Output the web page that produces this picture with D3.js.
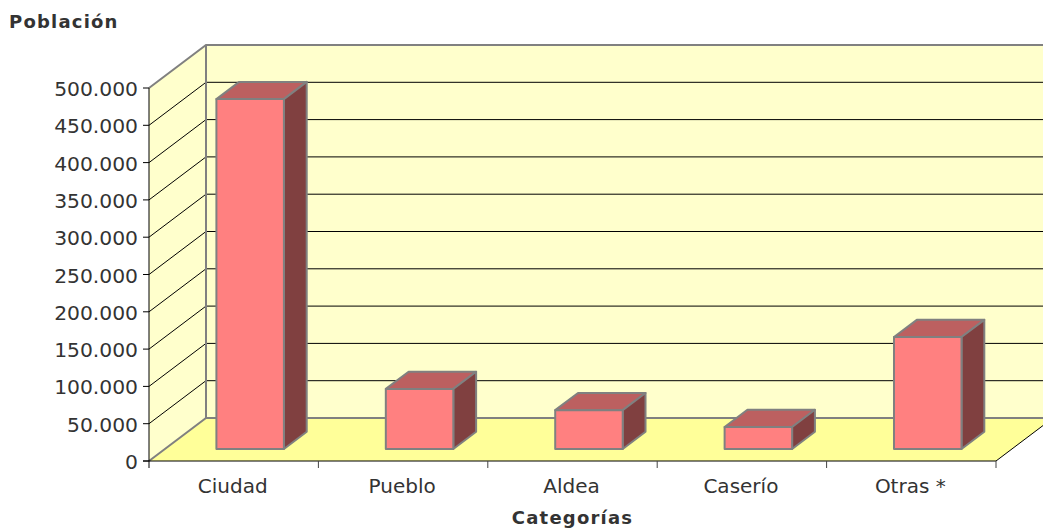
<!DOCTYPE html>
<html>
<head>
<meta charset="utf-8">
<script src="https://cdn.jsdelivr.net/npm/d3@7"></script>
<style>
  html, body { margin: 0; padding: 0; background: #fff; }
  svg { display: block; }
  text { font-family: "DejaVu Sans", Verdana, sans-serif; fill: #333; }
</style>
</head>
<body>
<div id="chart"></div>
<script>
var categories = ['Ciudad', 'Pueblo', 'Aldea', 'Caserío', 'Otras *'];
var values = [469000, 80500, 52000, 29500, 150000];
var yTicks = [0, 50000, 100000, 150000, 200000, 250000, 300000, 350000, 400000, 450000, 500000];
var yTickLabels = ['0', '50.000', '100.000', '150.000', '200.000', '250.000', '300.000', '350.000', '400.000', '450.000', '500.000'];

var width = 1043, height = 529;
var left = 149, right = 996, base = 461, top_ = 88;
var depthX = 57, depthY = 43;       // full depth of the box
var barFront = 0.28, barBack = 0.68; // bar position inside the depth

var x = d3.scaleBand().domain(categories).range([left, right]);
var y = d3.scaleLinear().domain([0, 500000]).range([base, top_]);

// oblique projection: d = 0 is the front plane, d = 1 the back wall
function px(xv, d) { return xv + d * depthX; }
function py(yv, d) { return yv - d * depthY; }
function pt(xv, yv, d) { return [px(xv, d), py(yv, d)]; }

var svg = d3.select('#chart').append('svg')
  .attr('width', width)
  .attr('height', height);

var line = d3.line();
var grey = '#808080';

// walls and floor
svg.append('path')
  .attr('d', line([pt(left, base, 0), pt(left, top_, 0), pt(left, top_, 1), pt(left, base, 1)]) + 'Z')
  .attr('fill', '#ffffcc');
svg.append('path')
  .attr('d', line([pt(left, base, 1), pt(left, top_, 1), pt(right, top_, 1), pt(right, base, 1)]) + 'Z')
  .attr('fill', '#ffffcc');
svg.append('path')
  .attr('d', line([pt(left, base, 0), pt(left, base, 1), pt(right, base, 1), pt(right, base, 0)]) + 'Z')
  .attr('fill', '#ffff99');

// grid lines, side wall then back wall
var grid = yTicks.filter(function(d) { return d > 0 && d < 500000; });
svg.selectAll('.grid')
  .data(grid)
  .enter().append('path')
  .attr('class', 'grid')
  .attr('fill', 'none')
  .attr('stroke', '#000')
  .attr('stroke-width', 1)
  .attr('d', function(d) {
    return line([pt(left, y(d), 0), pt(left, y(d), 1), pt(right, y(d), 1)]);
  });

// box outline
svg.append('path')
  .attr('fill', 'none')
  .attr('stroke', grey)
  .attr('stroke-width', 2)
  .attr('d', line([pt(left, top_, 0), pt(left, top_, 1), pt(right, top_, 1)]));
svg.append('path')
  .attr('fill', 'none')
  .attr('stroke', grey)
  .attr('stroke-width', 2)
  .attr('d', line([pt(left, base, 0), pt(left, base, 1), pt(right, base, 1)]));
svg.append('path')
  .attr('fill', 'none')
  .attr('stroke', grey)
  .attr('stroke-width', 2)
  .attr('d', line([pt(left, top_, 1), pt(left, base, 1)]));
svg.append('path')
  .attr('fill', 'none')
  .attr('stroke', '#000')
  .attr('stroke-width', 1)
  .attr('d', line([pt(right, base, 0), pt(right, base, 1)]));

// bars
var barW = 67.5;
var bars = svg.selectAll('.bar')
  .data(categories)
  .enter().append('g')
  .attr('class', 'bar')
  .attr('stroke', grey)
  .attr('stroke-width', 2)
  .attr('stroke-linejoin', 'round');

function barX(c) { return x(c) + (x.bandwidth() - barW) / 2 + 0.5; }
var d0 = barFront, d1 = barBack;

bars.append('path')
  .attr('fill', '#bc6060')
  .attr('d', function(c, i) {
    var x0 = barX(c), x1 = x0 + barW, t = y(values[i]);
    return line([pt(x0, t, d0), pt(x0, t, d1), pt(x1, t, d1), pt(x1, t, d0)]) + 'Z';
  });
bars.append('path')
  .attr('fill', '#804040')
  .attr('d', function(c, i) {
    var x1 = barX(c) + barW, t = y(values[i]);
    return line([pt(x1, t, d0), pt(x1, t, d1), pt(x1, base, d1), pt(x1, base, d0)]) + 'Z';
  });
bars.append('path')
  .attr('fill', '#ff8080')
  .attr('d', function(c, i) {
    var x0 = barX(c), x1 = x0 + barW, t = y(values[i]);
    return line([pt(x0, t, d0), pt(x1, t, d0), pt(x1, base, d0), pt(x0, base, d0)]) + 'Z';
  });

// axes
svg.append('line')
  .attr('x1', left).attr('x2', left)
  .attr('y1', top_).attr('y2', base)
  .attr('stroke', '#000');
svg.append('line')
  .attr('x1', left - 6).attr('x2', right)
  .attr('y1', base).attr('y2', base)
  .attr('stroke', '#000');

svg.selectAll('.ytick')
  .data(yTicks)
  .enter().append('line')
  .attr('class', 'ytick')
  .attr('x1', left - 6).attr('x2', left)
  .attr('y1', function(d) { return y(d); })
  .attr('y2', function(d) { return y(d); })
  .attr('stroke', '#000');

svg.selectAll('.ylabel')
  .data(yTicks)
  .enter().append('text')
  .attr('class', 'ylabel')
  .attr('x', left - 11)
  .attr('y', function(d) { return y(d) + 8; })
  .attr('text-anchor', 'end')
  .style('font-size', '20.3px')
  .text(function(d, i) { return yTickLabels[i]; });

var xEdges = categories.map(function(c) { return x(c); }).concat([right]);
svg.selectAll('.xtick')
  .data(xEdges)
  .enter().append('line')
  .attr('class', 'xtick')
  .attr('x1', function(d) { return d; })
  .attr('x2', function(d) { return d; })
  .attr('y1', base)
  .attr('y2', base + 7)
  .attr('stroke', function(d, i) { return i == 0 ? '#000' : '#444'; });

svg.selectAll('.xlabel')
  .data(categories)
  .enter().append('text')
  .attr('class', 'xlabel')
  .attr('x', function(c) { return x(c) + x.bandwidth() / 2 - 1; })
  .attr('y', 493)
  .attr('text-anchor', 'middle')
  .style('font-size', '20px')
  .text(function(c) { return c; });

// titles
svg.append('text')
  .attr('x', 9)
  .attr('y', 28)
  .style('font-size', '18px')
  .style('font-weight', 'bold')
  .style('letter-spacing', '1.2px')
  .text('Población');

svg.append('text')
  .attr('x', 572.5)
  .attr('y', 524)
  .attr('text-anchor', 'middle')
  .style('font-size', '18px')
  .style('font-weight', 'bold')
  .style('letter-spacing', '1.2px')
  .text('Categorías');
</script>
</body>
</html>
